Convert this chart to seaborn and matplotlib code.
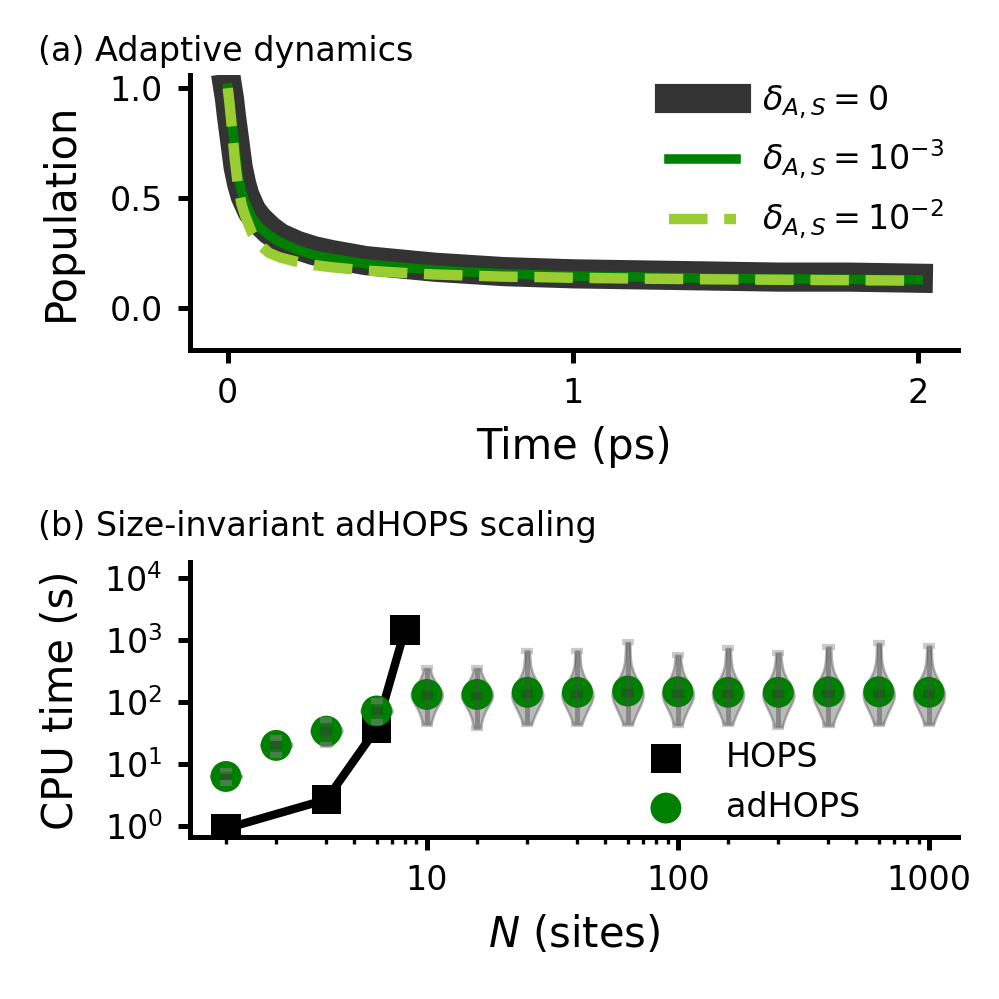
import numpy as np
import pandas as pd
import matplotlib
matplotlib.use("Agg")
import matplotlib.pyplot as plt
import seaborn as sns

# ---- panel (a): population dynamics ----
time_ps = [0.0, 0.005, 0.01, 0.02, 0.03, 0.04, 0.05, 0.07, 0.09, 0.12, 0.15, 0.2, 0.25,
           0.3, 0.4, 0.5, 0.6, 0.7, 0.8, 0.9, 1.0, 1.2, 1.4, 1.6, 1.8, 2.0]
pop_delta0 = [1.0, 0.95, 0.88, 0.76, 0.64, 0.565, 0.51, 0.44, 0.40, 0.355, 0.32, 0.285, 0.26,
              0.243, 0.215, 0.20, 0.185, 0.175, 0.165, 0.16, 0.155, 0.15, 0.145, 0.14, 0.14, 0.135]
pop_delta3 = [1.0, 0.94, 0.87, 0.74, 0.60, 0.53, 0.48, 0.41, 0.37, 0.33, 0.30, 0.265, 0.24,
              0.225, 0.20, 0.185, 0.172, 0.163, 0.155, 0.15, 0.145, 0.14, 0.135, 0.132, 0.13, 0.128]
pop_delta2 = [1.0, 0.93, 0.85, 0.68, 0.55, 0.47, 0.42, 0.34, 0.29, 0.25, 0.23, 0.21, 0.195,
              0.185, 0.17, 0.16, 0.152, 0.147, 0.142, 0.14, 0.137, 0.133, 0.13, 0.128, 0.126, 0.124]
labels_a = [r"$\delta_{A,S} = 0$", r"$\delta_{A,S} = 10^{-3}$", r"$\delta_{A,S} = 10^{-2}$"]

# ---- panel (b): CPU time scaling ----
N_SITES = [2, 3, 4, 6, 10, 20, 30, 40, 60, 100, 200, 300, 400, 600, 1000]
adhops_time = [6.3, 20, 34, 72, 133, 133, 144, 144, 151, 147, 144, 144, 147, 147, 144]
hops_sites = [2, 4, 6, 8]
hops_time = [0.91, 2.67, 37.6, 1460]

# per-trajectory CPU times (s) behind the violins
adhops_runs = {
    2: [4.9, 5.6, 6.0, 6.3, 6.6, 7.0, 7.8],
    3: [14, 17, 19, 20, 21, 23, 26],
    4: [20, 27, 31, 34, 37, 41, 52],
    6: [48, 60, 67, 72, 77, 86, 105],
    10: [44, 58, 72, 86, 100, 112, 121, 128, 135, 142, 150, 162, 185, 240, 350],
    20: [38, 55, 70, 85, 99, 111, 120, 127, 134, 141, 149, 161, 184, 240, 350],
    30: [44, 60, 75, 90, 104, 116, 126, 134, 142, 150, 160, 175, 210, 360, 675],
    40: [44, 60, 75, 90, 104, 116, 126, 134, 142, 150, 160, 175, 210, 360, 675],
    60: [44, 60, 76, 92, 106, 119, 129, 138, 146, 155, 166, 182, 225, 420, 920],
    100: [43, 59, 75, 90, 104, 117, 127, 135, 143, 151, 162, 178, 215, 340, 575],
    200: [44, 60, 75, 91, 105, 118, 128, 136, 144, 152, 163, 180, 220, 390, 740],
    300: [40, 57, 73, 89, 103, 116, 126, 134, 142, 150, 161, 177, 215, 360, 630],
    400: [42, 59, 75, 91, 105, 118, 128, 136, 144, 152, 163, 180, 222, 400, 780],
    600: [44, 60, 76, 92, 106, 119, 129, 137, 145, 153, 164, 182, 225, 420, 890],
    1000: [44, 60, 75, 91, 105, 118, 128, 136, 144, 152, 163, 180, 222, 400, 810],
}


def site_pos(n):
    """Position of a system size on the evenly spaced N axis."""
    return np.interp(np.log10(n), np.log10(N_SITES), np.arange(len(N_SITES)))


sns.set_style("ticks")
plt.rcParams.update({
    "font.family": ["DejaVu Sans"],
    "font.size": 8,
    "axes.labelsize": 10,
    "xtick.labelsize": 8,
    "ytick.labelsize": 8,
    "legend.fontsize": 8,
    "text.color": "black",
    "axes.labelcolor": "black",
    "axes.edgecolor": "black",
    "xtick.color": "black",
    "ytick.color": "black",
    "axes.linewidth": 1.2,
    "xtick.major.width": 1.2,
    "ytick.major.width": 1.2,
    "xtick.major.size": 3,
    "ytick.major.size": 3,
    "xtick.minor.width": 0.8,
    "ytick.minor.width": 0.8,
    "xtick.minor.size": 1.7,
    "ytick.minor.size": 1.7,
})

fig = plt.figure(figsize=(3.33, 3.33), dpi=300)
ax_a = fig.add_axes([0.190, 0.650, 0.769, 0.275])
ax_b = fig.add_axes([0.190, 0.162, 0.769, 0.275])

# (a)
sns.lineplot(x=time_ps, y=pop_delta0, color="0.2", lw=7, solid_capstyle="projecting",
             label=labels_a[0], ax=ax_a)
sns.lineplot(x=time_ps, y=pop_delta3, color="green", lw=2.3, solid_capstyle="projecting",
             label=labels_a[1], ax=ax_a)
sns.lineplot(x=time_ps, y=pop_delta2, color="yellowgreen", lw=2.5, ls="--",
             dash_capstyle="butt", label=labels_a[2], ax=ax_a)
ax_a.set_xlim(-0.11, 2.115)
ax_a.set_ylim(-0.19, 1.06)
ax_a.set_xticks([0, 1, 2])
ax_a.set_yticks([0.0, 0.5, 1.0])
ax_a.set_yticklabels(["0.0", "0.5", "1.0"])
ax_a.set_xlabel("Time (ps)")
ax_a.set_ylabel("Population")
ax_a.legend(loc="upper right", bbox_to_anchor=(1.0, 1.02), borderaxespad=0, frameon=False)

# (b)
runs = pd.DataFrame(
    [(site_pos(n), t) for n, vals in adhops_runs.items() for t in vals],
    columns=["pos", "cpu"],
)
sns.violinplot(data=runs, x="pos", y="cpu", native_scale=True, log_scale=(False, True),
               orient="x", cut=0, inner=None, density_norm="width", width=0.62,
               color="0.4", linecolor="0.35", linewidth=0.6, alpha=0.45, ax=ax_b)

pos = site_pos(list(adhops_runs.keys()))
mins = [min(v) for v in adhops_runs.values()]
maxs = [max(v) for v in adhops_runs.values()]
meds = [np.median(v) for v in adhops_runs.values()]

ax_b.plot(site_pos(hops_sites), hops_time, color="k", lw=2, zorder=2)
sns.scatterplot(x=site_pos(hops_sites), y=hops_time, marker="s", s=50, color="k",
                edgecolor="none", label="HOPS", zorder=3, ax=ax_b)
sns.scatterplot(x=site_pos(N_SITES), y=adhops_time, marker="o", s=55, color="green",
                edgecolor="none", label="adHOPS", zorder=4, ax=ax_b)

ax_b.vlines(pos, mins, maxs, colors="0.3", alpha=0.45, lw=1.2, zorder=5)
ax_b.hlines(maxs, pos - 0.12, pos + 0.12, colors="0.55", alpha=0.45, lw=1.5, zorder=5)
ax_b.hlines(mins, pos - 0.12, pos + 0.12, colors="0.55", alpha=0.45, lw=1.5, zorder=5)
ax_b.hlines(meds, pos - 0.12, pos + 0.12, colors="0.2", alpha=0.35, lw=2, zorder=5)

ax_b.set_yscale("log")
ax_b.set_ylim(0.66, 1.8e4)
ax_b.set_yticks([1, 10, 100, 1000, 10000])
ax_b.set_xlim(-0.72, 14.58)
ax_b.set_xticks(site_pos([10, 100, 1000]))
ax_b.set_xticklabels(["10", "100", "1000"])
minor_sites = [m * 10 ** k for k in (0, 1, 2) for m in range(2, 10)]
ax_b.set_xticks(site_pos(minor_sites), minor=True)
ax_b.set_xlabel(r"$N$ (sites)")
ax_b.set_ylabel("CPU time (s)")
ax_b.legend(loc="lower left", bbox_to_anchor=(0.559, 0.0), borderaxespad=0, frameon=False)

for ax in (ax_a, ax_b):
    sns.despine(ax=ax)
    ax.yaxis.set_label_coords(-0.14, 0.5)

fig.text(0.038, 0.948, "(a) Adaptive dynamics", ha="left", va="center", fontsize=8)
fig.text(0.038, 0.4725, "(b) Size-invariant adHOPS scaling", ha="left", va="center", fontsize=8)

fig.savefig("out.png", dpi=300)
plt.close(fig)
